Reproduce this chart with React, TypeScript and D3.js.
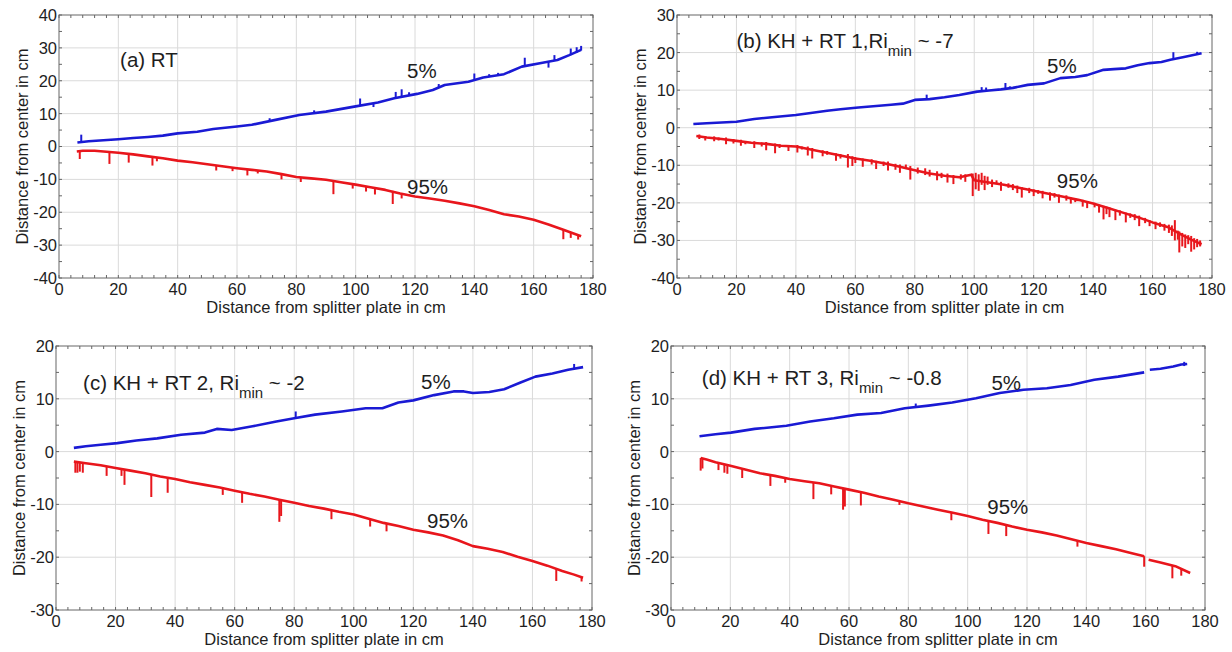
import React from 'react';
import * as d3 from 'd3';

type P = [number, number | null];
type Spike = [number, number, number];

// ---------- axes ----------
const xMajor = [0, 20, 40, 60, 80, 100, 120, 140, 160, 180];
const xMinorStep = 4;
const yMinorStep = 5;
const yMajorA = [-40, -30, -20, -10, 0, 10, 20, 30, 40];
const yMajorB = [-40, -30, -20, -10, 0, 10, 20, 30];
const yMajorCD = [-30, -20, -10, 0, 10, 20];

const xTitle = 'Distance from splitter plate in cm';
const yTitle = 'Distance from center in cm';

// ---------- panel (a) ----------
const a5: P[] = [[6.2,1.2],[10,1.6],[15,1.9],[20,2.2],[25,2.6],[30,2.9],[35,3.3],[40,4.0],[46.6,4.5],[52,5.3],[60,6.1],[65,6.6],[73,8.1],[81,9.6],[90,10.6],[100,12.2],[107.5,13.4],[113,14.7],[120.7,16.0],[126,17.2],[130,18.7],[138,19.7],[143,21.0],[150,22.0],[156,24.3],[163,25.5],[168,26.3],[172,27.8],[176,29.4]];
const a5Spikes: Spike[] = [[7.5,1.5,3.6],[71,7.8,8.6],[86,10.2,11.0],[101.5,12.5,14.6],[106,13.2,12.0],[113.5,14.8,16.6],[115.5,15.2,17.4],[118,15.6,16.5],[128,18.0,19.0],[140,20.3,22.2],[145,21.2,22.0],[148,21.6,22.4],[157,24.5,27.0],[165,25.8,24.0],[167,26.1,27.8],[172.5,27.8,29.8],[174.5,28.5,30.2],[176,29.2,30.6]];
const a95: P[] = [[6,-1.5],[8,-1.3],[12,-1.3],[20,-1.9],[25,-2.4],[30,-3.0],[35,-3.6],[40,-4.3],[45,-4.8],[50,-5.4],[55,-6.0],[60,-6.6],[65,-7.1],[70,-7.6],[75,-8.4],[80,-9.3],[85,-9.7],[90,-10.1],[95,-10.9],[100,-11.6],[105,-12.4],[110,-13.2],[115,-14.3],[120,-15.2],[125,-15.8],[130,-16.5],[135,-17.3],[140,-18.2],[145,-19.3],[150,-20.6],[155,-21.3],[160,-22.3],[165,-23.7],[170,-25.3],[173,-26.3],[176,-27.3]];
const a95Spikes: Spike[] = [[7,-1.5,-3.8],[17,-1.9,-5.3],[23.5,-2.3,-4.9],[31.5,-3.1,-5.8],[33,-3.3,-4.5],[53,-5.8,-7.3],[58.5,-6.4,-7.5],[63.5,-7.0,-8.8],[67,-7.3,-8.2],[75,-8.4,-10.0],[81.5,-9.4,-10.8],[92.5,-10.5,-14.5],[99,-11.5,-12.8],[103.5,-12.1,-13.7],[106.5,-12.6,-14.6],[112.5,-13.5,-17.5],[115.5,-14.4,-15.8],[170,-25.3,-28.2],[172.5,-26.0,-27.8],[175,-26.9,-28.3]];

// ---------- panel (b) ----------
const b5: P[] = [[5.5,1.0],[10,1.2],[15,1.4],[20,1.6],[26,2.3],[32,2.8],[40,3.4],[45,3.9],[50.5,4.5],[55,4.9],[61,5.4],[66,5.7],[72,6.1],[76,6.4],[80,7.4],[85,7.6],[90,8.1],[95,8.7],[101,9.6],[105,9.9],[109,10.2],[113,10.6],[118,11.4],[123.5,11.8],[129,13.2],[134,13.5],[138,14.0],[143.5,15.4],[147,15.6],[151,15.8],[155,16.6],[159,17.2],[163,17.5],[166,18.1],[171,18.9],[176.5,19.8]];
const b5Spikes: Spike[] = [[84,7.6,8.8],[102.5,9.7,10.8],[104,9.8,10.7],[110.5,10.3,11.9],[112,10.5,11.0],[167,18.2,20.1],[175,19.4,20.2]];
const b95: P[] = [[6.5,-2.2],[10,-2.6],[15,-3.0],[20,-3.5],[25,-4.0],[30,-4.3],[35,-4.8],[40,-5.0],[45,-5.8],[50,-6.6],[55,-7.4],[60,-8.2],[65,-8.8],[70,-9.5],[75,-10.4],[80,-11.3],[85,-12.2],[90,-12.8],[95,-13.2],[99,-12.5],[100,-14.0],[105,-14.6],[110,-15.2],[115,-16.0],[120,-16.8],[125,-17.6],[130,-18.4],[135,-19.2],[140,-20.2],[145,-21.4],[150,-22.6],[155,-23.8],[160,-25.2],[165,-26.4],[170,-28.6],[173,-29.8],[176.5,-31.0]];
const b95Spikes: Spike[] = [[7.5,-1.8,-3.0],[9.5,-2.2,-3.4],[12.5,-2.3,-3.6],[14,-2.6,-3.4],[16.5,-2.6,-4.4],[19,-3.0,-4.2],[21.5,-3.2,-4.8],[23,-3.6,-4.4],[26,-3.6,-5.4],[28.5,-3.9,-5.0],[30,-3.8,-6.0],[33,-4.2,-6.8],[34.5,-4.4,-5.4],[37.5,-4.6,-6.2],[40.5,-4.6,-6.6],[42,-5.0,-5.8],[44,-5.0,-7.4],[45.5,-5.4,-8.2],[49,-6.0,-7.6],[50.5,-6.2,-7.2],[53.5,-6.8,-8.8],[55,-7.0,-8.2],[57.5,-7.0,-10.6],[59,-7.6,-10.2],[60,-7.8,-9.4],[62.5,-8.2,-10.4],[65.5,-8.4,-9.8],[67,-8.8,-11.0],[69.5,-9.0,-10.2],[71,-9.0,-11.4],[73.5,-9.6,-11.2],[75,-9.8,-12.0],[77,-9.8,-11.0],[78.5,-10.2,-13.8],[81,-10.6,-12.2],[83.5,-10.8,-12.6],[85,-11.2,-13.0],[87.5,-11.6,-14.0],[89,-12.0,-13.4],[91,-12.2,-14.6],[93,-12.6,-15.0],[95.5,-12.4,-13.8],[97,-12.4,-14.4],[99.5,-12.2,-18.2],[100.5,-12.0,-16.4],[101.5,-12.4,-16.8],[102.5,-12.0,-15.2],[103.5,-12.8,-16.6],[104.5,-13.0,-15.2],[106,-13.8,-15.8],[107.5,-14.0,-15.0],[109,-14.4,-16.8],[111.5,-14.8,-16.0],[113,-15.0,-16.6],[114.5,-15.4,-17.4],[116,-15.8,-18.6],[118.5,-16.0,-17.4],[120,-16.4,-18.2],[121.5,-16.6,-17.6],[123,-16.8,-18.8],[125.5,-17.2,-19.4],[127,-17.4,-18.6],[128.5,-17.8,-20.0],[131,-18.0,-19.4],[132.5,-18.6,-20.2],[134,-18.8,-19.8],[136.5,-19.2,-21.0],[138,-19.8,-21.4],[140.5,-20.0,-21.2],[142,-20.6,-22.6],[143.5,-20.8,-24.4],[144.5,-21.0,-23.0],[145.5,-21.2,-23.8],[147.5,-21.8,-24.6],[149,-22.0,-23.4],[151,-22.6,-25.2],[152.5,-22.8,-24.0],[154,-23.0,-24.6],[155.5,-23.4,-26.2],[157.5,-24.0,-25.4],[159,-24.6,-26.2],[161,-25.0,-27.0],[162.5,-25.2,-26.4],[164,-25.6,-27.4],[165.5,-25.8,-28.0],[166.5,-26.0,-28.8],[167.5,-24.6,-30.0],[168.5,-27.4,-29.8],[169,-27.6,-33.2],[170,-28.0,-31.6],[171,-28.4,-32.0],[172,-28.6,-31.0],[173,-28.8,-33.0],[174,-29.4,-32.4],[175,-29.6,-31.8],[176,-30.0,-31.6]];

// ---------- panel (c) ----------
const c5: P[] = [[6,0.7],[10,1.0],[15,1.3],[20.6,1.6],[27,2.1],[34,2.5],[42,3.2],[50,3.6],[54,4.3],[59,4.1],[66,4.8],[74,5.7],[80,6.3],[87,7.0],[96,7.6],[104,8.2],[109.6,8.2],[115,9.3],[120,9.7],[127,10.7],[133.5,11.4],[137,11.4],[140,11.1],[145.5,11.3],[150.5,11.8],[156,13.1],[161,14.2],[166.7,14.8],[172,15.5],[177,16.0]];
const c5Spikes: Spike[] = [[80.5,6.3,7.6],[174,15.6,16.6]];
const c95: P[] = [[6,-1.9],[10,-2.2],[15,-2.6],[20,-3.1],[25,-3.6],[30,-4.1],[35,-4.7],[40,-5.2],[45,-5.8],[50,-6.3],[55,-6.8],[60,-7.4],[65,-8.0],[70,-8.5],[75,-9.1],[80,-9.7],[85,-10.3],[90,-10.8],[95,-11.4],[100,-11.9],[105,-12.7],[110,-13.5],[115,-14.1],[120,-14.8],[125,-15.3],[130,-15.9],[135,-16.8],[140,-17.9],[145,-18.4],[150,-19.0],[155,-19.9],[160,-20.7],[165,-21.6],[170,-22.6],[174,-23.3],[177,-23.9]];
const c95Spikes: Spike[] = [[6.5,-1.9,-4.0],[7.2,-2.0,-4.0],[8.0,-2.0,-3.8],[9.0,-2.1,-4.0],[17,-2.8,-4.6],[22,-3.3,-4.6],[23,-3.4,-6.3],[32,-4.3,-8.6],[37.5,-4.9,-7.8],[56,-6.9,-8.2],[62.5,-7.7,-9.7],[75,-9.1,-13.3],[75.6,-9.2,-12.2],[92.5,-11.1,-12.8],[105.5,-12.8,-14.2],[111,-13.6,-15.1],[168,-22.2,-24.5],[176.5,-23.8,-24.6]];

// ---------- panel (d) ----------
const d5: P[] = [[9.6,2.9],[15,3.3],[20.2,3.6],[28.2,4.3],[34,4.6],[38.9,4.9],[46.9,5.7],[54.9,6.3],[62.8,7.0],[70.8,7.3],[78.8,8.2],[86.8,8.7],[94.8,9.3],[102.8,10.1],[110.8,11.1],[118.8,11.7],[126.7,12.0],[134.7,12.6],[142.7,13.6],[150.7,14.2],[159.5,15.0],[160.5,null],[161.4,15.5],[165,15.7],[169.3,16.1],[172,16.5],[174,16.6]];
const d5Spikes: Spike[] = [[82.5,8.5,9.1],[173,16.2,17.0]];
const d95: P[] = [[10,-1.2],[12,-1.5],[15,-2.0],[20,-2.7],[25,-3.4],[30,-4.1],[35,-4.6],[40,-5.2],[45,-5.6],[50,-6.0],[55,-6.6],[60,-7.2],[65,-7.8],[70,-8.5],[75,-9.1],[80,-9.8],[85,-10.4],[90,-11.0],[95,-11.6],[100,-12.2],[105,-12.9],[110,-13.5],[115,-14.2],[120,-14.8],[125,-15.3],[130,-15.9],[135,-16.6],[140,-17.3],[145,-17.9],[150,-18.5],[155,-19.2],[159.5,-19.8],[160.5,null],[161,-20.5],[165,-21.0],[170,-21.7],[175,-23.0]];
const d95Spikes: Spike[] = [[10,-1.2,-3.6],[10.6,-1.3,-3.2],[16,-2.1,-3.5],[18,-2.4,-4.0],[19,-2.5,-4.2],[24,-3.3,-5.0],[33.5,-4.4,-6.5],[38.5,-5.0,-5.9],[48,-5.8,-9.0],[54,-6.5,-8.1],[58,-7.0,-11.0],[58.6,-7.1,-10.4],[64,-7.7,-10.2],[77,-9.4,-10.1],[94.5,-11.5,-13.0],[107,-13.1,-15.6],[113,-13.9,-16.0],[137,-16.9,-18.0],[159.5,-19.8,-21.8],[169,-21.6,-24.0],[172,-22.2,-23.5]];

// ---------- labels ----------
const panelLetters = ['(a) RT', '(b) KH + RT 1,Ri', '(c) KH + RT 2, Ri', '(d) KH + RT 3, Ri'];
const panelSuffix = ['', ' ~ -7', ' ~ -2', ' ~ -0.8'];
const subText = 'min';
const lbl5 = '5%';
const lbl95 = '95%';

const BLUE = '#1a1ad4';
const RED = '#e8161c';
const FONT = "'Liberation Sans', Arial, Helvetica, sans-serif";

interface Cfg {
  box: [number, number, number, number];
  yDomain: [number, number];
  yTicks: number[];
  s5: P[]; s5Spikes: Spike[];
  s95: P[]; s95Spikes: Spike[];
  title: string; suffix: string;
  titlePos: [number, number];
  p5: [number, number];
  p95: [number, number];
}

const panels: Cfg[] = [
  { box: [59, 593, 15, 278], yDomain: [-40, 40], yTicks: yMajorA, s5: a5, s5Spikes: a5Spikes, s95: a95, s95Spikes: a95Spikes, title: panelLetters[0], suffix: panelSuffix[0], titlePos: [20.6, 24.2], p5: [117.3, 20.7], p95: [117.3, -14.4] },
  { box: [677, 1212, 15, 278], yDomain: [-40, 30], yTicks: yMajorB, s5: b5, s5Spikes: b5Spikes, s95: b95, s95Spikes: b95Spikes, title: panelLetters[1], suffix: panelSuffix[1], titlePos: [20.0, 21.1], p5: [124.5, 14.6], p95: [127.8, -16.1] },
  { box: [56, 592, 346, 610], yDomain: [-30, 20], yTicks: yMajorCD, s5: c5, s5Spikes: c5Spikes, s95: c95, s95Spikes: c95Spikes, title: panelLetters[2], suffix: panelSuffix[2], titlePos: [9.1, 11.6], p5: [122.6, 11.8], p95: [124.6, -14.5] },
  { box: [671, 1205, 346, 610], yDomain: [-30, 20], yTicks: yMajorCD, s5: d5, s5Spikes: d5Spikes, s95: d95, s95Spikes: d95Spikes, title: panelLetters[3], suffix: panelSuffix[3], titlePos: [10.4, 12.6], p5: [108, 11.7], p95: [106.6, -11.9] },
];

function Panel({ cfg }: { cfg: Cfg }) {
  const [x0, x1, y0, y1] = cfg.box;
  const x = d3.scaleLinear().domain([0, 180]).range([x0, x1]);
  const y = d3.scaleLinear().domain(cfg.yDomain).range([y1, y0]);
  const line = d3.line<P>().defined(d => d[1] !== null).x(d => x(d[0])).y(d => y(d[1] as number));
  const xMinor = d3.range(0, 180 + 0.001, xMinorStep);
  const yMinor = d3.range(cfg.yDomain[0], cfg.yDomain[1] + 0.001, yMinorStep);
  const grid = '#dadada';
  const frame = '#666';
  const txt = '#1e1e1e';
  const hasSub = cfg.suffix !== '';
  return (
    <g>
      {xMajor.slice(1, -1).map(v => (
        <line key={'gx' + v} x1={x(v)} x2={x(v)} y1={y0} y2={y1} stroke={grid} strokeWidth={1} />
      ))}
      {cfg.yTicks.slice(1, -1).map(v => (
        <line key={'gy' + v} x1={x0} x2={x1} y1={y(v)} y2={y(v)} stroke={grid} strokeWidth={1} />
      ))}
      {xMinor.map(v => (
        <g key={'mx' + v}>
          <line x1={x(v)} x2={x(v)} y1={y1} y2={y1 - 3} stroke={frame} strokeWidth={1} />
          <line x1={x(v)} x2={x(v)} y1={y0} y2={y0 + 3} stroke={frame} strokeWidth={1} />
        </g>
      ))}
      {yMinor.map(v => (
        <g key={'my' + v}>
          <line x1={x0} x2={x0 + 3} y1={y(v)} y2={y(v)} stroke={frame} strokeWidth={1} />
          <line x1={x1} x2={x1 - 3} y1={y(v)} y2={y(v)} stroke={frame} strokeWidth={1} />
        </g>
      ))}
      <path d={line(cfg.s5) || ''} fill="none" stroke={BLUE} strokeWidth={2.6} strokeLinejoin="round" />
      {cfg.s5Spikes.map((s, i) => (
        <line key={'s5' + i} x1={x(s[0])} x2={x(s[0])} y1={y(s[1])} y2={y(s[2])} stroke={BLUE} strokeWidth={2} />
      ))}
      <path d={line(cfg.s95) || ''} fill="none" stroke={RED} strokeWidth={2.6} strokeLinejoin="round" />
      {cfg.s95Spikes.map((s, i) => (
        <line key={'s95' + i} x1={x(s[0])} x2={x(s[0])} y1={y(s[1])} y2={y(s[2])} stroke={RED} strokeWidth={2} />
      ))}
      <rect x={x0} y={y0} width={x1 - x0} height={y1 - y0} fill="none" stroke={frame} strokeWidth={1} />
      {xMajor.map(v => (
        <text key={'tx' + v} x={x(v)} y={y1 + 17} textAnchor="middle" fontSize={16.5} fontFamily={FONT} fill={txt}>{String(v)}</text>
      ))}
      {cfg.yTicks.map(v => (
        <text key={'ty' + v} x={x0 - 2} y={y(v)} dy="0.36em" textAnchor="end" fontSize={16.5} fontFamily={FONT} fill={txt}>{String(v)}</text>
      ))}
      <text x={(x0 + x1) / 2} y={y1 + 35} textAnchor="middle" fontSize={16.5} fontFamily={FONT} fill={txt}>{xTitle}</text>
      <text transform={`translate(${x0 - 31},${(y0 + y1) / 2}) rotate(-90)`} textAnchor="middle" fontSize={16.5} fontFamily={FONT} fill={txt}>{yTitle}</text>
      <text x={x(cfg.titlePos[0])} y={y(cfg.titlePos[1])} fontSize={20.5} fontFamily={FONT} fill={txt}>
        {cfg.title}
        {hasSub && <tspan fontSize={15} dy={8}>{subText}</tspan>}
        {hasSub && <tspan dy={-8}>{cfg.suffix}</tspan>}
      </text>
      <text x={x(cfg.p5[0])} y={y(cfg.p5[1])} fontSize={20.5} fontFamily={FONT} fill={txt}>{lbl5}</text>
      <text x={x(cfg.p95[0])} y={y(cfg.p95[1])} fontSize={20.5} fontFamily={FONT} fill={txt}>{lbl95}</text>
    </g>
  );
}

export default function App() {
  return (
    <svg width={1232} height={652} style={{ position: 'absolute', left: 0, top: 0, background: '#fff' }}>
      <rect x={0} y={0} width={1232} height={652} fill="#fff" />
      {panels.map((p, i) => <Panel key={i} cfg={p} />)}
    </svg>
  );
}
